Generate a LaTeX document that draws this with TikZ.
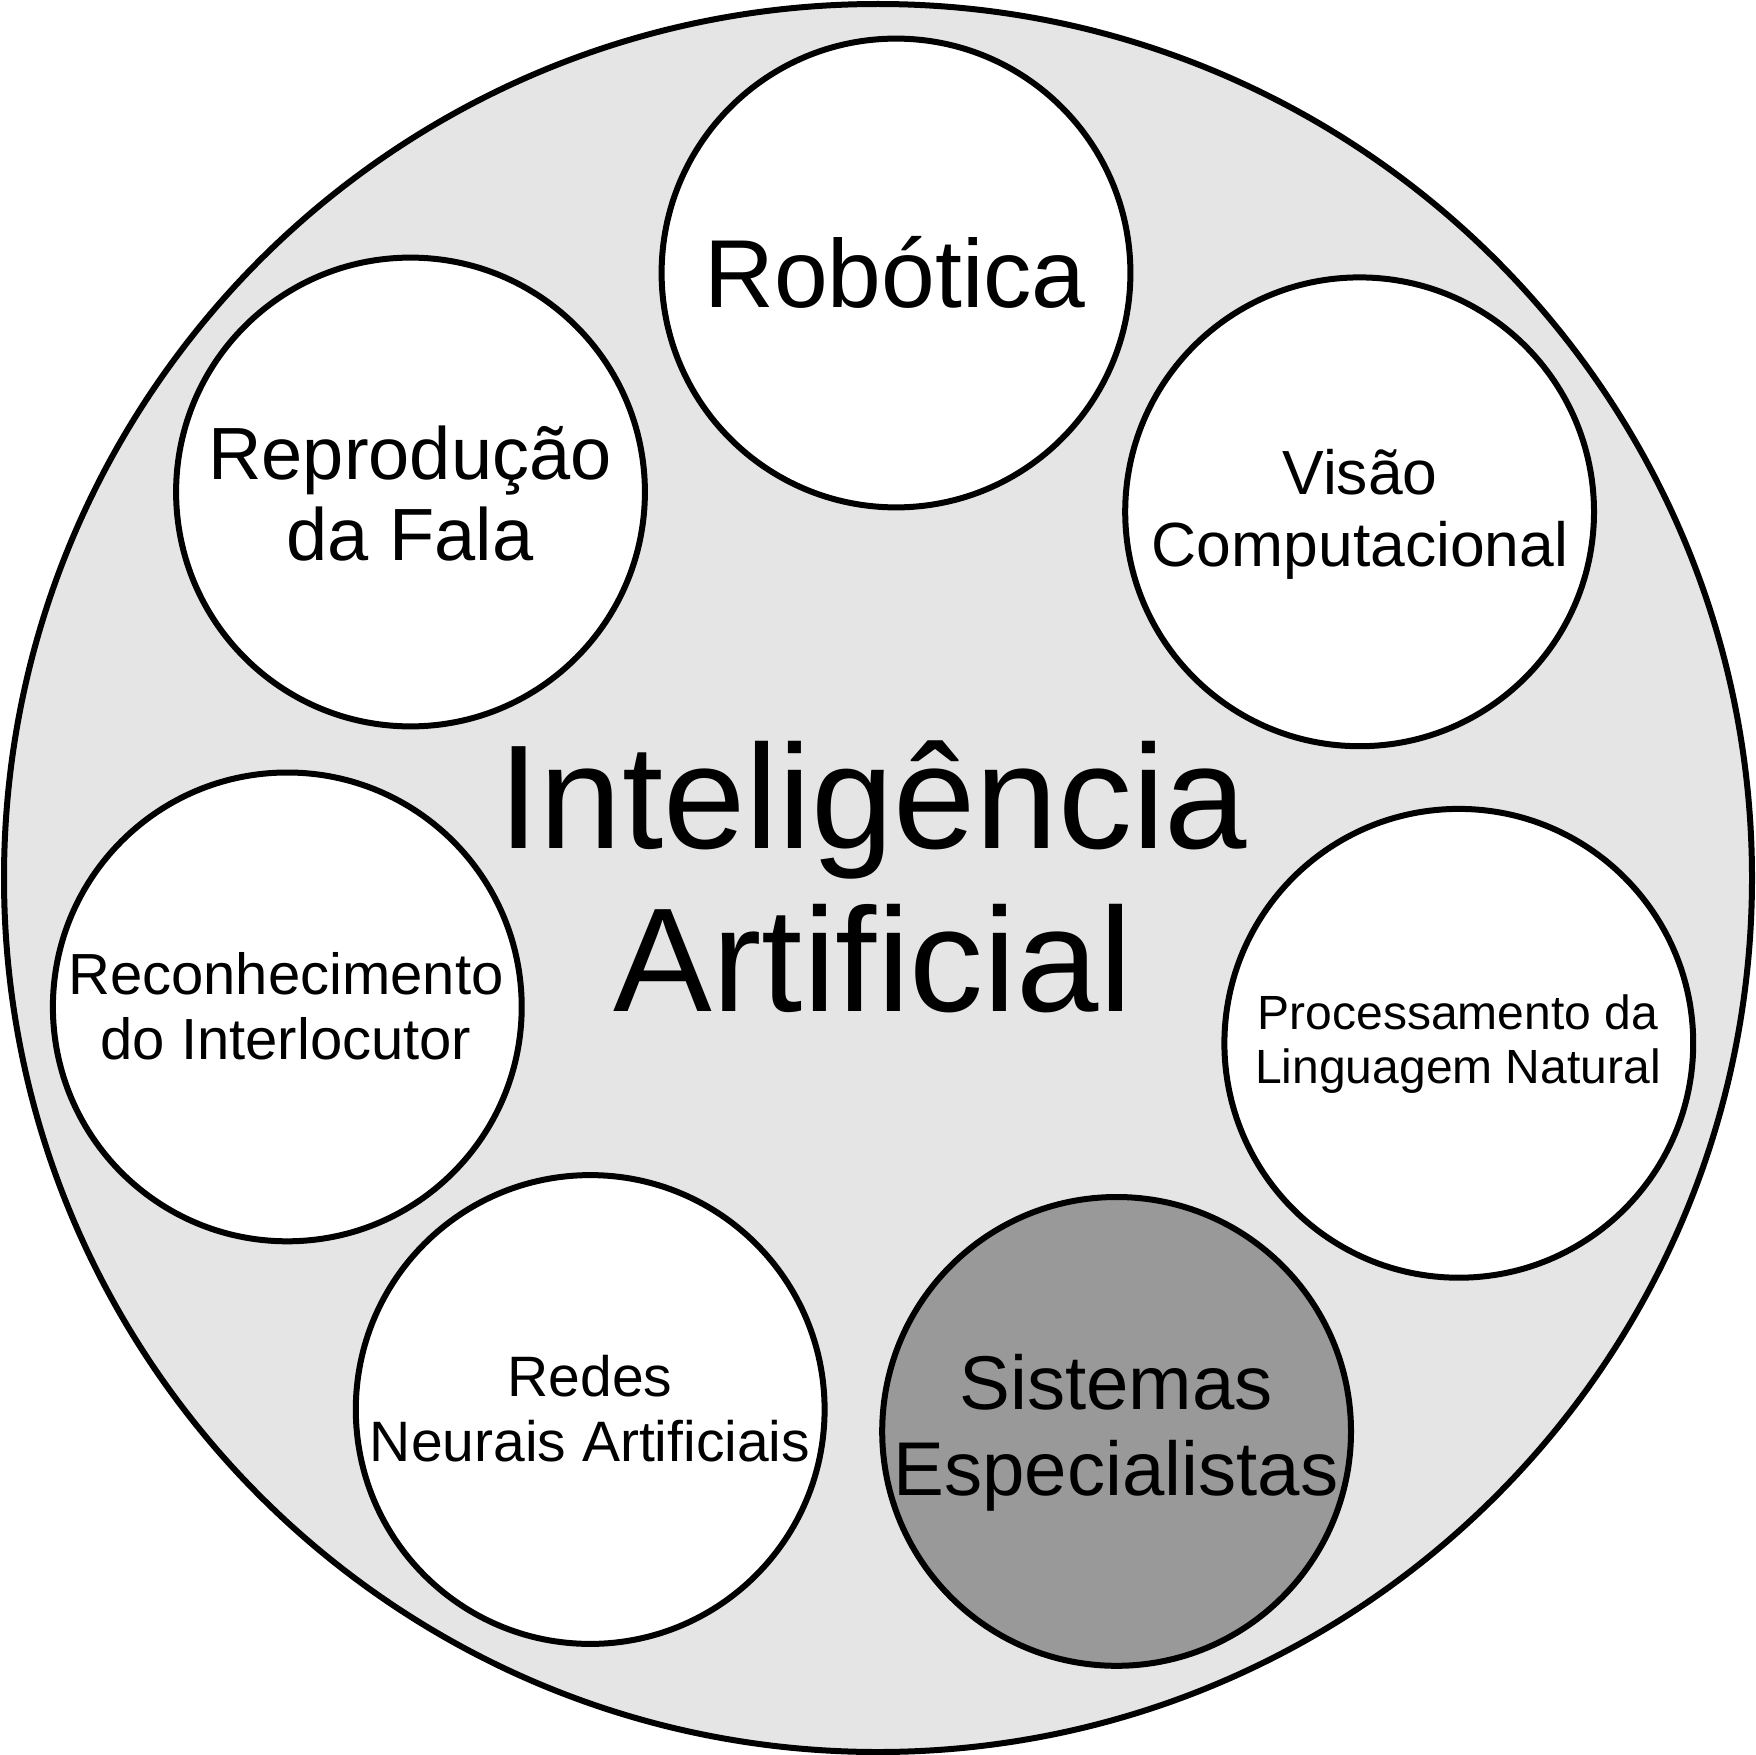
\documentclass[tikz,border=0pt]{standalone}
\usepackage{fontspec}
\setmainfont{Liberation Sans}

\definecolor{ringfill}{RGB}{229,229,229}
\definecolor{expertfill}{RGB}{153,153,153}

% two centred lines, first baseline at the node's base anchor
\newcommand{\twolines}[4]{%
  \fontsize{#1}{#2}\selectfont
  \begin{tabular}[t]{@{}c@{}}#3\\#4\end{tabular}}

\tikzset{
  field/.style={circle, draw=black, line width=3pt, fill=white,
    minimum size=234.4pt, inner sep=0pt},
  caption/.style={anchor=base, inner sep=0pt},
}

\begin{document}
\begin{tikzpicture}[x=0.5pt, y=-0.5pt]
  \useasboundingbox (0,0) rectangle (1756,1755);

  % the whole field
  \node[circle, draw=black, line width=3pt, fill=ringfill,
        minimum size=874pt, inner sep=0pt] (ai) at (878,878) {};
  \node[caption] (aitxt) at (873,848)
    {\twolines{74pt}{81.5pt}{Inteligência}{Artificial}};

  % sub-areas
  \node[field] (rob) at (896,273) {};
  \node[caption, font=\fontsize{48.3pt}{56pt}\selectfont] (robtxt) at (895,307) {Robótica};

  \node[field] (fala) at (410.5,492) {};
  \node[caption] (falatxt) at (410,479)
    {\twolines{37pt}{40.5pt}{Reprodução}{da Fala}};

  \node[field] (visao) at (1359.6,511.8) {};
  \node[caption] (visaotxt) at (1360,494)
    {\twolines{31.2pt}{36pt}{Visão}{Computacional}};

  \node[field] (recon) at (287.3,1006.9) {};
  \node[caption] (recontxt) at (286,994.6)
    {\twolines{29pt}{32.5pt}{Reconhecimento}{do Interlocutor}};

  \node[field] (pln) at (1458.8,1043.3) {};
  \node[caption] (plntxt) at (1458,1029)
    {\twolines{24pt}{27pt}{Processamento da}{Linguagem Natural}};

  \node[field] (rna) at (590.2,1409.5) {};
  \node[caption] (rnatxt) at (590,1396.6)
    {\twolines{28.5pt}{32.5pt}{Redes}{Neurais Artificiais}};

  \node[field, fill=expertfill] (se) at (1116.6,1431.4) {};
  \node[caption] (setxt) at (1116,1409)
    {\twolines{38.1pt}{43pt}{Sistemas}{Especialistas}};
\end{tikzpicture}
\end{document}
